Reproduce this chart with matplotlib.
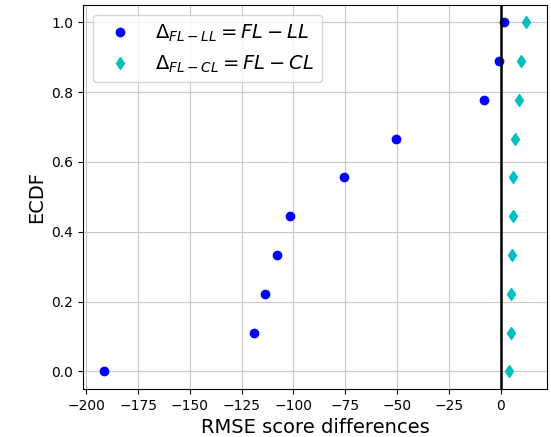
import numpy as np
import matplotlib.pyplot as plt

ecdf = np.arange(10) / 9.0
fl_ll = [-191.3, -119.0, -113.8, -108.0, -101.7, -75.6, -50.5, -8.1, -0.8, 1.6]
fl_cl = [4.2, 4.9, 5.0, 5.5, 5.9, 6.1, 7.0, 9.1, 9.9, 12.3]

fig = plt.figure(figsize=(5.51, 4.37), dpi=100)
ax = fig.add_axes([0.151, 0.110, 0.842, 0.879])
ax.plot(fl_ll, ecdf, 'bo', label=r'$\Delta_{FL-LL} = FL - LL$')
ax.plot(fl_cl, ecdf, 'cd', label=r'$\Delta_{FL-CL} = FL - CL$')
ax.axvline(0, color='k', lw=1.8)
ax.grid(True, color='#c8c8c8')
ax.set_xticks(np.arange(-200, 1, 25))
ax.set_xlabel('RMSE score differences', fontsize=14)
ax.set_ylabel('ECDF', fontsize=14)
ax.legend(loc='upper left', fontsize=14)
fig.savefig('out.png')
